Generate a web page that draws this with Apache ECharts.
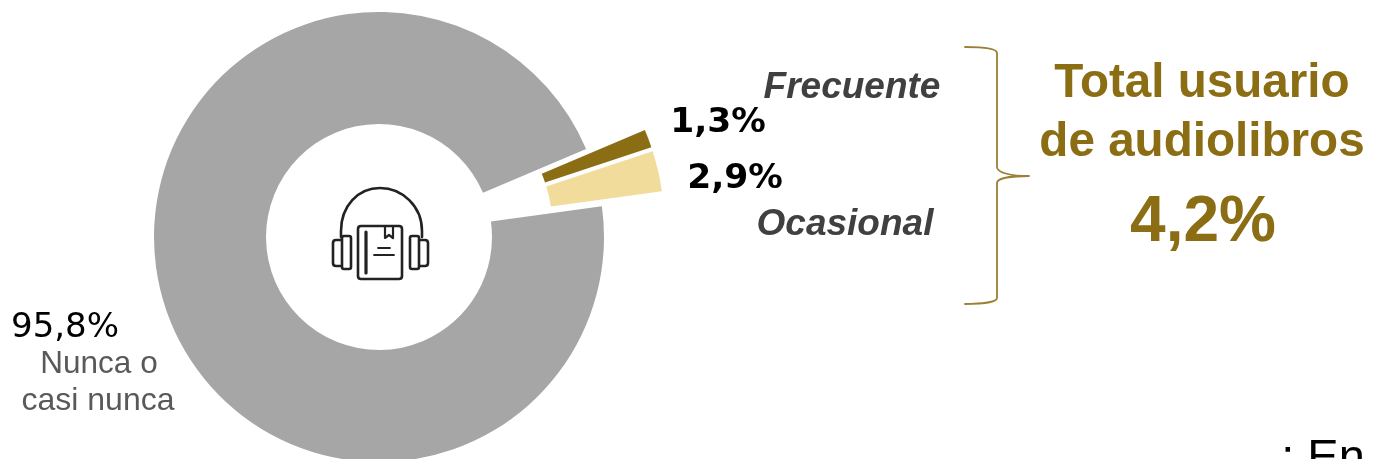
<!DOCTYPE html>
<html><head><meta charset="utf-8">
<style>html,body{margin:0;padding:0;background:#fff;overflow:hidden}#c{width:1373px;height:459px}</style>
<script src="https://cdn.jsdelivr.net/npm/echarts@6/dist/echarts.min.js"></script>
</head><body><div id="c"></div>
<script>
const categories = ['Frecuente', 'Ocasional', 'Nunca o casi nunca'];
const values = [1.3, 2.9, 95.8];
const valueLabels = ['1,3%', '2,9%', '95,8%'];
const titleLines = ['Total usuario', 'de audiolibros'];
const totalLabel = '4,2%';
const sliceColors = ['#8B6D14', '#F2DC9B', '#A6A6A6'];
const gold = '#8B6D14';
const font = 'Liberation Sans';
const valueFont = 'DejaVu Sans';

function txt(x, y, text, size, fill, extra) {
  return { type: 'text', x, y, style: Object.assign({ text, fontFamily: font, fontSize: size, fill, align: 'center', verticalAlign: 'middle' }, extra || {}) };
}
let pathCount = 0;
function line(pathData, w, color) {
  const name = 'p' + (pathCount++);
  echarts.graphic.registerShape(name, echarts.graphic.extendPath(pathData, {}));
  return { type: name, style: { fill: 'none', stroke: color || '#222', lineWidth: w, lineCap: 'round', lineJoin: 'round' } };
}
function pie(center, offset, visible) {
  return {
    type: 'pie',
    center,
    radius: [113, 225],
    startAngle: 23,
    selectedMode: 'multiple',
    selectedOffset: offset,
    silent: true,
    label: { show: false },
    labelLine: { show: false },
    data: categories.map((name, i) => {
      const color = visible(i) ? sliceColors[i] : 'rgba(0,0,0,0)';
      return {
        name, value: values[i], selected: i < 2 && visible(i),
        itemStyle: { color, borderWidth: 0 },
        select: { itemStyle: { color } }
      };
    })
  };
}
const chart = echarts.init(document.getElementById('c'), null, { renderer: 'canvas' });
chart.setOption({
  animation: false,
  backgroundColor: '#fff',
  series: [
    pie([379, 237], 0, i => i === 2),
    pie([407.8, 229.3], 32, i => i < 2)
  ],
  graphic: [
    txt(852, 88, categories[0], 37, '#404040', { fontWeight: 'bold', fontStyle: 'italic' }),
    txt(845, 225, categories[1], 37, '#404040', { fontWeight: 'bold', fontStyle: 'italic' }),
    txt(718, 123, valueLabels[0], 34.5, '#000', { fontFamily: valueFont, fontWeight: 'bold' }),
    txt(735, 179, valueLabels[1], 34.5, '#000', { fontFamily: valueFont, fontWeight: 'bold' }),
    txt(65, 328, valueLabels[2], 34, '#000', { fontFamily: valueFont }),
    txt(99, 364, 'Nunca o', 31.5, '#595959'),
    txt(98, 401, 'casi nunca', 32, '#595959'),
    txt(1202, 84, titleLines[0], 47.6, gold, { fontWeight: 'bold' }),
    txt(1202, 143, titleLines[1], 47.6, gold, { fontWeight: 'bold' }),
    txt(1203, 223, totalLabel, 64, gold, { fontWeight: 'bold' }),
    txt(1323, 459, ': En', 47, '#000'),
    line('M965 47 C982 47 997 48 997 53 L997 167 C997 173 1012 176 1029 176 C1012 176 997 178 997 183 L997 298 C997 302 982 304 965 304', 1.8, '#9A8035'),
    // audiobook icon
    line('M341 237 L341 231 C341 206 358 188 380 188 C402 188 422 206 422 231 L422 237', 2.6),
    line('M341 240 L336 240 Q333 240 333 243 L333 263 Q333 266 336 266 L341 266', 2.6),
    line('M344 236 L349 236 Q351 236 351 238 L351 267 Q351 269 349 269 L344 269 Q342 269 342 267 L342 238 Q342 236 344 236 Z', 2.6),
    line('M412 236 L417 236 Q419 236 419 238 L419 267 Q419 269 417 269 L412 269 Q410 269 410 267 L410 238 Q410 236 412 236 Z', 2.6),
    line('M420 240 L425 240 Q428 240 428 243 L428 263 Q428 266 425 266 L420 266', 2.6),
    line('M361 226 L399 226 Q402 226 402 229 L402 276 Q402 279 399 279 L361 279 Q358 279 358 276 L358 229 Q358 226 361 226 Z', 2.6),
    line('M366 232 L366 273', 3.2),
    line('M385 226 L385 238 L389 235 L393 238 L393 226', 2.2),
    line('M378 248 L390 248', 1.8),
    line('M374 255 L394 255', 1.8)
  ]
});
</script></body></html>
